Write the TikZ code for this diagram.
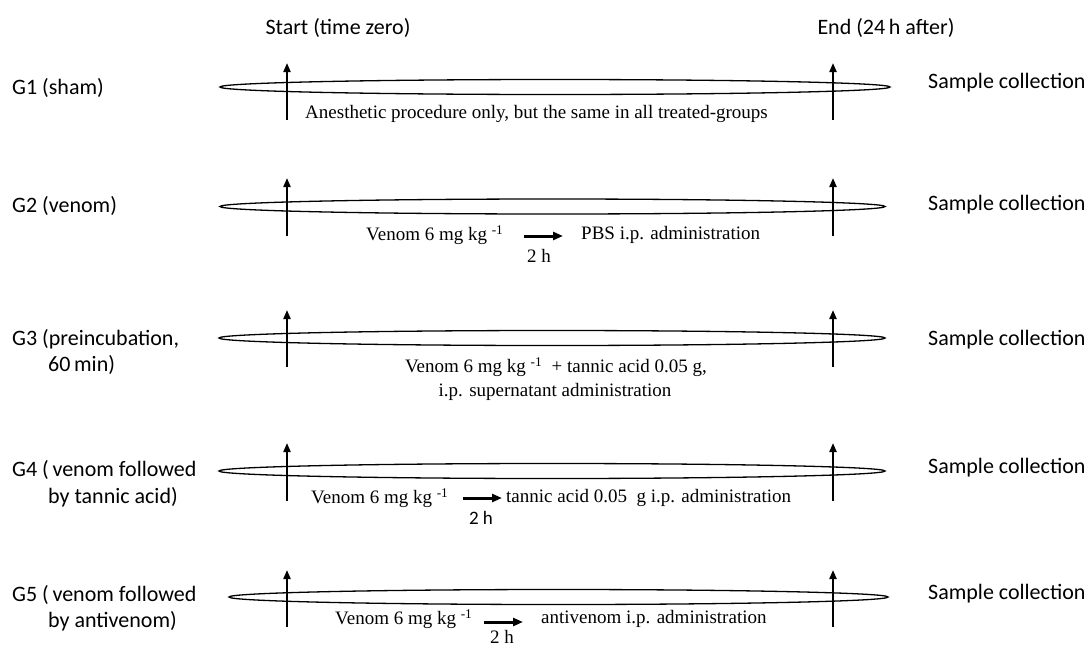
\documentclass[tikz,border=0pt]{standalone}
\usepackage{fontspec}
\setmainfont{Liberation Serif}
\newfontfamily\calib{Carlito}
\usetikzlibrary{arrows.meta}
\begin{document}
\begin{tikzpicture}[x=1pt,y=-1pt,
  lab/.style={font=\calib\fontsize{22}{26}\selectfont, inner sep=0pt, anchor=west},
  hdr/.style={font=\calib\fontsize{22}{26}\selectfont, inner sep=0pt},
  sml/.style={font=\calib\fontsize{19}{22}\selectfont, inner sep=0pt},
  txt/.style={font=\fontsize{19}{24}\selectfont, inner sep=0pt},
  txtw/.style={txt, anchor=west},
  band/.style={line width=1.3pt},
  timearrow/.style={line width=2pt, -{Triangle[length=9pt,width=7pt]}},
  durarrow/.style={line width=3pt, -{Triangle[length=10pt,width=8pt]}}
]
\useasboundingbox (0,0) rectangle (1091,648);

% headers
\node[hdr] (start) at (338,28) {Start (time zero)};
\node[hdr] (end) at (886,28) {End (24\,h  after)};

% group labels
\node[lab] (g1) at (12,88) {G1 (sham)};
\node[lab] (g2) at (12,206) {G2 (venom)};
\node[lab] (g3a) at (12,339) {G3 (preincubation,};
\node[lab] (g3b) at (48,365) {60\,min)};
\node[lab] (g4a) at (12,470) {G4 (\,venom followed};
\node[lab] (g4b) at (48,497) {by tannic acid)};
\node[lab] (g5a) at (12,595) {G5 (\,venom followed};
\node[lab] (g5b) at (48,621) {by antivenom)};

% sample collection
\node[lab] (sc1) at (928,83) {Sample collection};
\node[lab] (sc2) at (928,205) {Sample collection};
\node[lab] (sc3) at (928,340) {Sample collection};
\node[lab] (sc4) at (928,468) {Sample collection};
\node[lab] (sc5) at (928,594) {Sample collection};

% bands
\draw[band] (555,87) ellipse (335 and 7.5);
\draw[band] (552.5,206.5) ellipse (332.5 and 7.5);
\draw[band] (552,338) ellipse (333 and 7.5);
\draw[band] (552,471) ellipse (333 and 7.5);
\draw[band] (558.5,597) ellipse (329.5 and 7.5);

% time arrows
\foreach \i/\yb/\yt in {1/120/63, 2/236/178, 3/367/310, 4/501/443, 5/627/570}{
  \coordinate (sb\i) at (287,\yb);
  \coordinate (st\i) at (287,\yt);
  \coordinate (eb\i) at (833,\yb);
  \coordinate (et\i) at (833,\yt);
  \draw[timearrow] (sb\i) -- (st\i);
  \draw[timearrow] (eb\i) -- (et\i);
}

% G1 text
\node[txtw] (t1) at (305,114) {Anesthetic procedure only, but the same in all treated-groups};

% G2 text
\node[txtw] (v2) at (366,235) {Venom 6 mg kg \textsuperscript{-1}};
\node[txtw] (p2) at (581,235) {PBS i.p. administration};
\coordinate (a2s) at (524,236);
\coordinate (a2e) at (563,236);
\draw[durarrow] (a2s) -- (a2e);
\node[txt] (h2) at (539,256) {2 h};

% G3 text
\node[txt] (v3) at (556,367) {Venom 6 mg kg \textsuperscript{-1}\ \ + tannic acid 0.05 g,};
\node[txt] (p3) at (555,392) {i.p. supernatant administration};

% G4 text
\node[txtw] (v4) at (311,498) {Venom 6 mg kg \textsuperscript{-1}};
\node[txtw] (p4) at (506,498) {tannic acid 0.05\ \ g i.p. administration};
\coordinate (a4s) at (463,498);
\coordinate (a4e) at (502,498);
\draw[durarrow] (a4s) -- (a4e);
\node[sml] (h4) at (481,518) {2 h};

% G5 text
\node[txtw] (v5) at (335,619) {Venom 6 mg kg \textsuperscript{-1}};
\node[txtw] (p5) at (541,619) {antivenom i.p. administration};
\coordinate (a5s) at (484,622);
\coordinate (a5e) at (523,622);
\draw[durarrow] (a5s) -- (a5e);
\node[txt] (h5) at (502,637) {2 h};
\end{tikzpicture}
\end{document}
